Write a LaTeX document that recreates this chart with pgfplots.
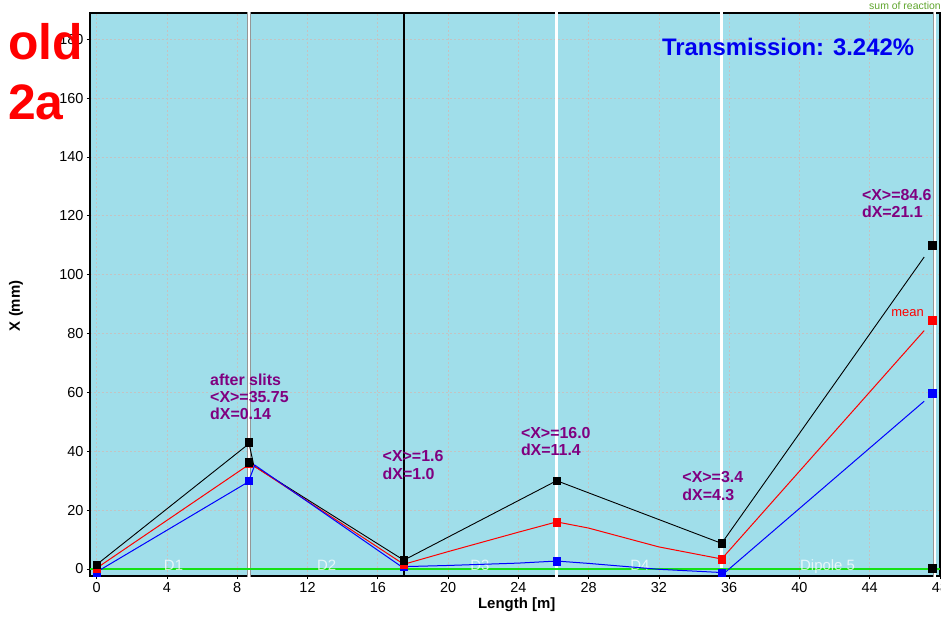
\documentclass[border=0pt]{standalone}
\usepackage{pgfplots}
\pgfplotsset{compat=1.18}
\usepackage{fontspec}
\setmainfont{Liberation Sans}

\definecolor{bgblue}{RGB}{160,222,234}
\definecolor{gridgray}{RGB}{195,195,195}
\definecolor{annot}{RGB}{128,0,128}
\definecolor{limegreen}{RGB}{20,225,20}
\definecolor{labelgreen}{RGB}{95,165,45}
\definecolor{transblue}{RGB}{0,0,240}
\definecolor{edgegray}{RGB}{150,150,150}

% envelope and mean of the beam along the line
\pgfplotstableread{
x y
0 1.5
8.55 42
8.66 43.0
8.95 35
17.48 3.0
26.18 30.0
35.57 8.7
47.1 106
}\maxline
\pgfplotstableread{
x y
0 0.3
8.55 35
8.66 35.75
8.95 35
17.48 1.6
20 5.9
24 12.5
26.18 16.0
28 13.9
32 7.5
35.57 3.4
47.1 81
}\meanline
\pgfplotstableread{
x y
0 -1.0
8.55 29.3
8.66 30.0
9.0 35.3
17.3 1.0
17.48 0.8
20 1.2
24 2.0
26.18 2.7
28 1.9
32 -0.1
35.57 -1.2
35.8 -1.0
47.1 57
}\minline

\begin{document}
\begin{tikzpicture}
\useasboundingbox (-90bp,-44bp) rectangle (851bp,576bp);
\begin{axis}[
  scale only axis, width=850bp, height=563bp,
  xmin=-0.38, xmax=48.0, ymin=-2.38, ymax=188.9,
  axis background/.style={fill=bgblue},
  axis line style={line width=1.4bp},
  xtick={0,4,...,48}, ytick={0,20,...,180},
  tick align=outside, xtick pos=bottom, ytick pos=left,
  major tick length=3bp,
  tick style={black, line width=0.8bp},
  grid=major,
  major grid style={gridgray, dash pattern=on 2bp off 2bp, line width=0.7bp},
  /pgf/number format/assume math mode=true,
  ticklabel style={font=\fontsize{14.5}{16}\selectfont},
  xlabel={Length [m]}, ylabel={X (mm)},
  label style={font=\fontsize{15}{17}\selectfont\bfseries},
  xlabel style={at={(axis description cs:0.502,-0.0586)}, anchor=base},
  ylabel style={at={(axis description cs:-0.087,0.48)}, anchor=center},
]
% element boundaries
\addplot[edgegray, line width=3.6bp, forget plot] coordinates {(8.66,-3) (8.66,190)};
\addplot[white, line width=2.6bp, forget plot] coordinates {(8.66,-3) (8.66,190)};
\addplot[black, line width=1.5bp, forget plot] coordinates {(17.48,-3) (17.48,190)};
\addplot[white, line width=3bp, forget plot] coordinates {(26.18,-3) (26.18,190)};
\addplot[white, line width=3bp, forget plot] coordinates {(35.57,-3) (35.57,190)};
\addplot[edgegray, line width=3.2bp, forget plot] coordinates {(47.7,-3) (47.7,190)};
\addplot[white, line width=2.4bp, forget plot] coordinates {(47.7,-3) (47.7,190)};
% reaction sum
\addplot[limegreen, line width=1.6bp, forget plot] coordinates {(-0.38,0) (48,0)};

% element names
\begin{scope}[every node/.style={anchor=base west, inner sep=0pt, text=white, text opacity=0.75, font=\fontsize{15}{17}\selectfont}]
\node at (axis cs:3.82,-0.6) {D1};
\node at (axis cs:12.53,-0.6) {D2};
\node at (axis cs:21.26,-0.6) {D3};
\node at (axis cs:30.36,-0.6) {D4};
\node at (axis cs:40.03,-0.6) {Dipole 5};
\end{scope}

% beam lines
\addplot[black, line width=0.9bp] table[x=x,y=y] {\maxline};
\addplot[red, line width=1bp] table[x=x,y=y] {\meanline};
\addplot[blue, line width=1bp] table[x=x,y=y] {\minline};

% markers at the elements
\addplot[only marks, mark=square*, mark size=3.8bp, mark options={draw=blue, fill=blue}] coordinates {
(0,-1.0) (8.66,30.0) (17.48,0.8) (26.18,2.7) (35.57,-1.2) (47.55,59.8)};
\addplot[only marks, mark=square*, mark size=3.8bp, mark options={draw=red, fill=red}] coordinates {
(0,0.3) (8.66,35.75) (17.48,1.6) (26.18,16.0) (35.57,3.4) (47.55,84.6)};
\addplot[only marks, mark=square*, mark size=3.8bp, mark options={draw=black, fill=black}] coordinates {
(0,1.4) (8.66,43.0) (8.66,36.2) (17.48,3.0) (26.18,30.0) (35.57,8.7) (47.55,110) (47.55,0.3)};

% beam statistics
\begin{scope}[every node/.style={anchor=north west, inner sep=0pt, align=left, text=annot, font=\fontsize{16}{17.5}\selectfont\bfseries}]
\node at (axis cs:6.45,66.5) {after slits\\<X>=35.75\\dX=0.14};
\node at (axis cs:16.27,40.3) {<X>=1.6\\dX=1.0};
\node at (axis cs:24.14,48.2) {<X>=16.0\\dX=11.4};
\node at (axis cs:33.33,33.1) {<X>=3.4\\dX=4.3};
\node at (axis cs:43.55,129.1) {<X>=84.6\\dX=21.1};
\end{scope}
\node[anchor=base west, inner sep=0pt, text=red, font=\fontsize{13}{15}\selectfont] at (axis cs:45.22,85.8) {mean};
\node[anchor=base west, inner sep=0pt, text=transblue, font=\fontsize{24}{28}\selectfont\bfseries] at (axis cs:32.17,174.4) {Transmission: 3.242\%};
\end{axis}
\node[anchor=base west, inner sep=0pt, text=labelgreen, font=\fontsize{10.5}{12}\selectfont] at (779bp,566.5bp) {sum of reaction};
\node[anchor=base west, inner sep=0pt, text=red, font=\fontsize{50}{58}\selectfont\bfseries] at (-82bp,516.7bp) {old};
\node[anchor=base west, inner sep=0pt, text=red, font=\fontsize{50}{58}\selectfont\bfseries] at (-82bp,456.7bp) {2a};
\end{tikzpicture}
\end{document}
